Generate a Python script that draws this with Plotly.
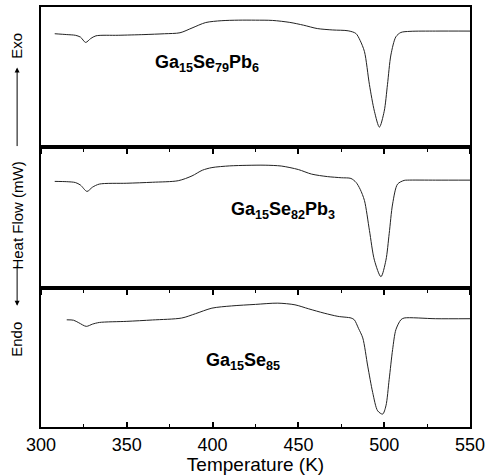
import plotly.graph_objects as go
from plotly.subplots import make_subplots

# Temperature (K) and heat flow (arb. units, 0-100 per panel)
temp_pb6 = [308, 315, 320, 323, 326, 329, 332, 345, 360, 372, 381, 388, 396, 405, 415, 425, 435, 445, 453, 461,
            470, 479, 483.5, 486, 488.5, 491.4, 494.3, 497.2, 500, 501.9, 503.9, 506.8, 509.7, 515, 530, 550]
flow_pb6 = [80.9, 80.3, 79.8, 78.5, 74.7, 77.5, 79.4, 79.8, 80.3, 80.9, 81.6, 85.0, 88.9, 90.2, 90.6, 90.6, 90.4, 89.0, 87.0, 84.6,
            83.6, 83.0, 81.1, 76.0, 68.1, 44.5, 25.5, 14.2, 25.5, 44.5, 65.7, 78.7, 81.8, 82.6, 82.8, 82.8]

temp_pb3 = [308, 315, 320, 323, 326.8, 330, 334, 350, 365, 380, 388, 394, 399.6, 410, 420, 430.6, 440, 450, 457.6, 467,
            475, 480.6, 483.6, 486, 488.5, 491.4, 494.3, 498.1, 501, 502.9, 504.9, 507.8, 511.6, 513.5, 530, 550]
flow_pb3 = [75.6, 75.4, 74.8, 73.0, 68.5, 71.5, 73.7, 74.3, 75.0, 76.1, 79.5, 83.5, 85.4, 86.6, 87.0, 87.1, 86.5, 84.0, 80.8, 79.0,
            78.2, 77.7, 74.9, 70.0, 62.0, 40.8, 19.7, 8.0, 19.7, 38.5, 59.6, 73.7, 76.3, 76.5, 76.5, 76.5]

temp_se85 = [315, 319, 322, 326.4, 330, 334, 350, 365, 382, 390, 399.6, 411, 425, 438, 448, 456, 465, 473, 480.7, 482.6,
             485, 487.5, 490.4, 493.3, 496.2, 499.1, 501, 502.9, 504.9, 506.8, 509.7, 511.6, 530, 550]
flow_se85 = [77.1, 76.8, 75.0, 72.4, 74.0, 75.2, 76.0, 77.0, 78.4, 81.5, 85.5, 87.1, 88.2, 89.1, 87.9, 85.0, 81.9, 79.6, 78.4, 77.1,
             71.0, 64.1, 43.8, 24.8, 11.6, 9.3, 15.2, 34.3, 55.7, 70.0, 77.1, 78.4, 77.9, 77.9]

labels = ["<b>Ga<sub>15</sub>Se<sub>79</sub>Pb<sub>6</sub></b>",
          "<b>Ga<sub>15</sub>Se<sub>82</sub>Pb<sub>3</sub></b>",
          "<b>Ga<sub>15</sub>Se<sub>85</sub></b>"]
label_x = [397, 441, 418]
label_y = [59.6, 54.9, 47.0]

x_ticks = [300, 350, 400, 450, 500, 550]

W, H = 490, 475
ml, mr, mt, mb = 41, 18, 5, 47
ph = H - mt - mb

fig = make_subplots(rows=3, cols=1, shared_xaxes=False, vertical_spacing=0)

series = [(temp_pb6, flow_pb6), (temp_pb3, flow_pb3), (temp_se85, flow_se85)]
for i, (t, f) in enumerate(series):
    fig.add_trace(go.Scatter(x=t, y=f, mode="lines", line=dict(color="#222222", width=1, shape="spline", smoothing=0.8),
                             showlegend=False, hoverinfo="skip"), row=i + 1, col=1)

# panel domains (pixel boundaries 5,146,288,428)
b1 = (H - mb - 146) / ph
b2 = (H - mb - 288) / ph
domains = [[b1, 1], [b2, b1], [0, b2]]

font = "Liberation Sans, Arial, sans-serif"
for i in range(3):
    xa = dict(range=[300, 550], tickvals=x_ticks, showline=True, linecolor="black", linewidth=2, mirror=True,
              showgrid=False, zeroline=False, ticklen=5, tickwidth=1.5, tickcolor="black",
              minor=dict(dtick=25, ticklen=3, tickwidth=1.2, tickcolor="black", ticks="outside"),
              ticks="outside", showticklabels=False)
    if i == 2:
        xa.update(ticks="inside", showticklabels=True, tickfont=dict(family=font, size=18, color="black"),
                  minor=dict(dtick=25, ticklen=3, tickwidth=1.2, tickcolor="black", ticks="inside"),
                  title=dict(text="Temperature (K)", font=dict(family=font, size=19, color="black"), standoff=2))
    fig.update_xaxes(**xa, row=i + 1, col=1)
    fig.update_yaxes(range=[0, 100], showticklabels=False, ticks="", showgrid=False, zeroline=False,
                     showline=True, linecolor="black", linewidth=2, mirror=True, domain=domains[i], row=i + 1, col=1)
    fig.add_annotation(x=label_x[i], y=label_y[i], xref=f"x{'' if i == 0 else i + 1}", yref=f"y{'' if i == 0 else i + 1}",
                       text=labels[i], showarrow=False, font=dict(family=font, size=18, color="black"))

def py(p):
    return (H - mb - p) / ph

lx = (17 - ml) / (W - ml - mr)
lfont = dict(family=font, size=15, color="black")
for txt, yp in [("Exo", 44), ("Heat Flow (mW)", 215), ("Endo", 340)]:
    fig.add_annotation(x=lx, y=py(yp), xref="paper", yref="paper", text=txt, textangle=-90, showarrow=False,
                       xanchor="center", yanchor="middle", font=lfont)
# arrows
fig.add_annotation(x=lx, y=py(66), xref="paper", yref="paper", text="", showarrow=True, ax=0, ay=80,
                   arrowhead=2, arrowsize=1, arrowwidth=1, arrowcolor="black")
fig.add_annotation(x=lx, y=py(306), xref="paper", yref="paper", text="", showarrow=True, ax=0, ay=-42,
                   arrowhead=2, arrowsize=1, arrowwidth=1, arrowcolor="black")

fig.update_layout(width=W, height=H, margin=dict(l=ml, r=mr, t=mt, b=mb), plot_bgcolor="white", paper_bgcolor="white",
                  font=dict(family=font), hovermode=False)
fig.write_html("out.html", config={"displayModeBar": False}, post_script="document.body.style.margin='0';")
